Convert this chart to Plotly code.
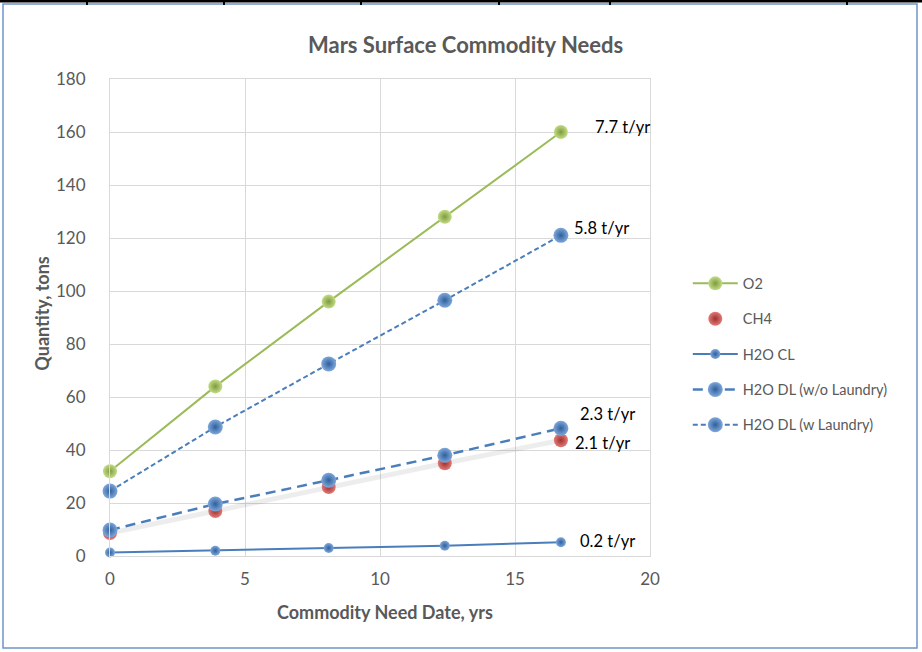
import plotly.graph_objects as go

# ---- data ----
years = [0, 3.9, 8.1, 12.4, 16.7]
o2 = [32, 64, 96, 128, 160]
ch4 = [8.7, 17, 26, 35, 43.7]
h2o_cl = [1.3, 2.0, 3.0, 3.9, 5.2]
h2o_dl_wo = [9.8, 19.6, 28.6, 38, 48.2]
h2o_dl_w = [24.5, 48.7, 72.5, 96.5, 121]
rate_labels = ["7.7 t/yr", "5.8 t/yr", "2.3 t/yr", "2.1 t/yr", "0.2 t/yr"]
x_ticks = [0, 5, 10, 15, 20]
y_ticks = [0, 20, 40, 60, 80, 100, 120, 140, 160, 180]

FONT = "Lato"
GREY = "#595959"
BLUE = "#4a7ebb"
GREEN = "#9bbb59"

fig = go.Figure()

# faint shadow beneath the CH4 / DL curve
fig.add_trace(go.Scatter(x=years, y=ch4, mode="lines", showlegend=False,
                         line=dict(color="rgba(0,0,0,0.07)", width=5),
                         hoverinfo="skip", cliponaxis=False))

def ball(light, dark, size):
    return dict(color=light, size=size, line=dict(width=0),
                gradient=dict(type="radial", color=dark))

fig.add_trace(go.Scatter(x=years, y=o2, name="O2", mode="lines+markers",
                         line=dict(color=GREEN, width=2),
                         marker=ball("#c3dd86", "#7f9a3f", 14),
                         legendgroup="a", cliponaxis=False))
fig.add_trace(go.Scatter(x=years, y=ch4, name="CH4", mode="markers",
                         marker=ball("#e07b78", "#a0302d", 14),
                         legendgroup="b", cliponaxis=False))
fig.add_trace(go.Scatter(x=years, y=h2o_cl, name="H2O CL", mode="lines+markers",
                         line=dict(color=BLUE, width=2),
                         marker=ball("#7fa8dc", "#2f5f9a", 10),
                         legendgroup="c", cliponaxis=False))
fig.add_trace(go.Scatter(x=years, y=h2o_dl_wo, name="H2O DL (w/o Laundry)",
                         mode="lines+markers",
                         line=dict(color=BLUE, width=2.5, dash="10px,6px"),
                         marker=ball("#7fa8dc", "#2f5f9a", 15),
                         legendgroup="d", cliponaxis=False))
fig.add_trace(go.Scatter(x=years, y=h2o_dl_w, name="H2O DL (w Laundry)",
                         mode="lines+markers",
                         line=dict(color=BLUE, width=2, dash="5px,3px"),
                         marker=ball("#7fa8dc", "#2f5f9a", 15),
                         legendgroup="e", cliponaxis=False))

# rate labels anchored on the last point of each series
anchors = [(o2[-1], 32, 5), (h2o_dl_w[-1], 11, 7), (h2o_dl_wo[-1], 17, 14),
           (ch4[-1], 12, -3), (h2o_cl[-1], 17, 1)]
annotations = []
for txt, (yv, xs, ys) in zip(rate_labels, anchors):
    annotations.append(dict(x=years[-1], y=yv, xref="x", yref="y", text=txt,
                            showarrow=False, xanchor="left", yanchor="middle",
                            xshift=xs, yshift=ys,
                            font=dict(family=FONT, size=16.5, color="#000000")))

# axis titles
annotations.append(dict(x=0.51, y=-0.117, xref="paper", yref="paper",
                        text="<b>Commodity Need Date, yrs</b>", showarrow=False,
                        xanchor="center", yanchor="middle",
                        font=dict(family=FONT, size=18, color=GREY)))
annotations.append(dict(x=-0.126, y=0.51, xref="paper", yref="paper",
                        text="<b>Quantity, tons</b>", showarrow=False, textangle=-90,
                        xanchor="center", yanchor="middle",
                        font=dict(family=FONT, size=18, color=GREY)))

L, R, T, B = 110, 272, 79, 96
PW, PH = 922 - L - R, 652 - T - B

def px(xp):
    return (xp - L) / PW

def py(yp):
    return (652 - B - yp) / PH

shapes = [
    # outer chart border
    dict(type="rect", xref="paper", yref="paper", x0=px(3), x1=px(917),
         y0=py(648), y1=py(4), line=dict(color="#6f93c9", width=1.5)),
    # black table rule at top
    dict(type="line", xref="paper", yref="paper", x0=px(0), x1=px(922),
         y0=py(1), y1=py(1), line=dict(color="#000000", width=3)),
]
for tx in [87, 224, 361, 499, 610, 847]:
    shapes.append(dict(type="line", xref="paper", yref="paper", x0=px(tx), x1=px(tx),
                       y0=py(0), y1=py(5), line=dict(color="#000000", width=2)))

fig.update_layout(
    width=922, height=652,
    margin=dict(l=L, r=R, t=T, b=B),
    paper_bgcolor="white", plot_bgcolor="white",
    title=dict(text="<b>Mars Surface Commodity Needs</b>", x=0.505, xanchor="center",
               y=1 - 45 / 652, yanchor="middle",
               font=dict(family=FONT, size=22, color=GREY)),
    xaxis=dict(range=[0, 20], tickvals=x_ticks, showgrid=True, gridcolor="#d9d9d9",
               gridwidth=1, zeroline=False, showline=True, mirror=True,
               linecolor="#d9d9d9", linewidth=1, ticks="", ticklabelstandoff=8,
               tickfont=dict(family=FONT, size=17, color=GREY)),
    yaxis=dict(range=[0, 180], tickvals=y_ticks, showgrid=True, gridcolor="#d9d9d9",
               gridwidth=1, zeroline=False, showline=True, mirror=True,
               linecolor="#d9d9d9", linewidth=1, ticks="", ticklabelstandoff=20,
               tickfont=dict(family=FONT, size=17, color=GREY)),
    legend=dict(x=1.07, y=0.605, xanchor="left", yanchor="top",
                traceorder="grouped", tracegroupgap=13.5, itemwidth=45,
                font=dict(family=FONT, size=14.5, color=GREY),
                bgcolor="rgba(0,0,0,0)"),
    annotations=annotations,
    shapes=shapes,
    showlegend=True,
)

fig.write_html("out.html", config={"displayModeBar": False},
               post_script="document.body.style.margin='0';document.body.style.padding='0';")
